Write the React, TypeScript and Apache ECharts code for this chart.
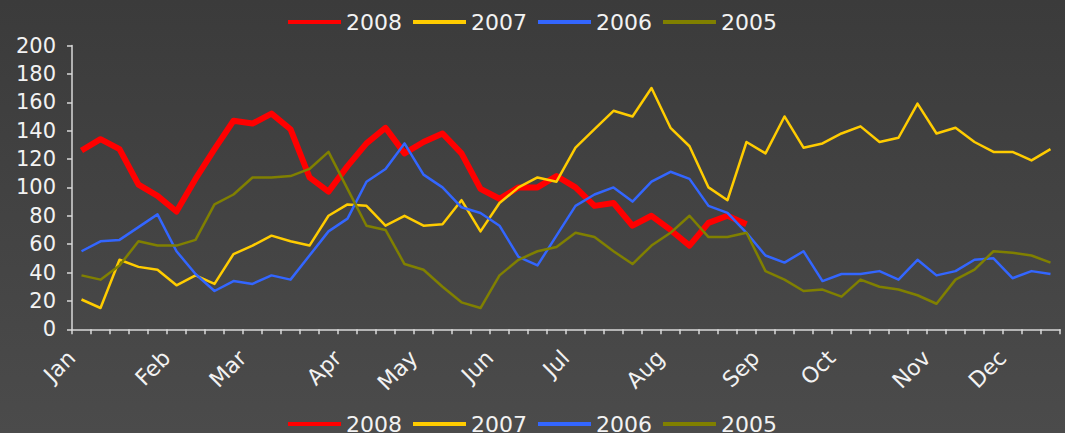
import React, { useEffect, useRef } from 'react';
import * as echarts from 'echarts';

// 52 weekly points per year; month label placed at its first week
const months = ['Jan', 'Feb', 'Mar', 'Apr', 'May', 'Jun', 'Jul', 'Aug', 'Sep', 'Oct', 'Nov', 'Dec'];
const monthStartWeek = [0, 5, 9, 14, 18, 22, 26, 31, 36, 40, 45, 49];
const weekCount = 52;

const y2008 = [126, 134, 127, 102, 94, 83, 106, 127, 147, 145, 152, 141, 107, 97, 115, 131, 142, 124, 132, 138, 124, 99, 92, 100, 100, 108, 100, 87, 89, 73, 80, 70, 59, 75, 80, 74];
const y2007 = [21, 15, 49, 44, 42, 31, 38, 32, 53, 59, 66, 62, 59, 80, 88, 87, 73, 80, 73, 74, 91, 69, 89, 100, 107, 104, 128, 141, 154, 150, 170, 142, 129, 100, 91, 132, 124, 150, 128, 131, 138, 143, 132, 135, 159, 138, 142, 132, 125, 125, 119, 127];
const y2006 = [55, 62, 63, 72, 81, 55, 39, 27, 34, 32, 38, 35, 52, 69, 78, 104, 113, 131, 109, 100, 86, 82, 73, 51, 45, 66, 87, 95, 100, 90, 104, 111, 106, 87, 82, 68, 52, 47, 55, 34, 39, 39, 41, 35, 49, 38, 41, 49, 50, 36, 41, 39];
const y2005 = [38, 35, 45, 62, 59, 59, 63, 88, 95, 107, 107, 108, 113, 125, 99, 73, 70, 46, 42, 30, 19, 15, 38, 49, 55, 58, 68, 65, 55, 46, 59, 68, 80, 65, 65, 68, 41, 35, 27, 28, 23, 35, 30, 28, 24, 18, 35, 42, 55, 54, 52, 47];

const seriesNames = ['2008', '2007', '2006', '2005'];
const seriesData = [y2008, y2007, y2006, y2005];
const seriesColors = ['#ff0000', '#ffcc00', '#3366ff', '#808000'];
const seriesWidths = [6, 2.5, 2.5, 2.5];

const yTicks = { min: 0, max: 200, interval: 20 };

export default function App() {
  const ref = useRef<HTMLDivElement>(null);
  useEffect(() => {
    if (!ref.current) return;
    const chart = echarts.init(ref.current, null, { renderer: 'svg' });
    const categories: string[] = [];
    for (let i = 0; i < weekCount; i++) {
      const m = monthStartWeek.indexOf(i);
      categories.push(m >= 0 ? months[m] : ' '.repeat(i + 1));
    }
    const font = 'DejaVu Sans, Verdana, sans-serif';
    const legendBase = {
      data: seriesNames.map((name) => ({ name, icon: 'rect' })),
      left: 'center',
      itemWidth: 53,
      itemHeight: 4,
      itemGap: 11,
      textStyle: { color: '#f2f2f2', fontSize: 22, fontFamily: font },
    };
    chart.setOption({
      animation: false,
      backgroundColor: {
        type: 'linear', x: 0, y: 0, x2: 0, y2: 1,
        colorStops: [
          { offset: 0, color: '#3b3b3b' },
          { offset: 1, color: '#4b4b4b' },
        ],
      },
      legend: [
        { ...legendBase, top: 6 },
        { ...legendBase, top: 408 },
      ],
      grid: { left: 72, right: 5, top: 45.5, bottom: 103.7, containLabel: false },
      xAxis: {
        type: 'category',
        data: categories,
        boundaryGap: true,
        axisLine: { lineStyle: { color: '#d8d8d8', width: 1.5 } },
        axisTick: { show: true, interval: 0, length: 5, lineStyle: { color: '#d8d8d8', width: 1.5 } },
        axisLabel: {
          interval: 0,
          rotate: 45,
          margin: 15,
          color: '#f2f2f2',
          fontSize: 22,
          fontFamily: font,
          formatter: (v: string) => (v.trim() === '' ? '' : v + '\u00a0\u00a0'),
        },
        splitLine: { show: false },
      },
      yAxis: {
        type: 'value',
        min: yTicks.min,
        max: yTicks.max,
        interval: yTicks.interval,
        axisLine: { show: true, lineStyle: { color: '#d8d8d8', width: 1.5 } },
        axisTick: { show: true, length: 5, lineStyle: { color: '#d8d8d8', width: 1.5 } },
        axisLabel: { color: '#f2f2f2', fontSize: 21, fontFamily: font, margin: 16 },
        splitLine: { show: false },
      },
      series: seriesNames.map((name, i) => ({
        name,
        type: 'line',
        data: seriesData[i],
        symbol: 'none',
        showSymbol: false,
        color: seriesColors[i],
        lineStyle: { color: seriesColors[i], width: seriesWidths[i], join: 'round' },
        z: 2,
      })),
    });
    return () => chart.dispose();
  }, []);
  return (
    <div
      ref={ref}
      style={{ position: 'absolute', left: 0, top: 0, width: 1065, height: 433 }}
    />
  );
}
